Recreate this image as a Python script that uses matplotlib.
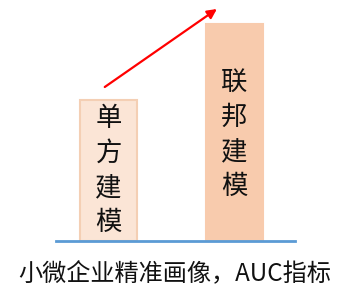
import matplotlib
matplotlib.use("Agg")
import matplotlib.pyplot as plt

plt.rcParams['font.family'] = ['Noto Sans CJK SC', 'DejaVu Sans']

# 数据
modelos = ["单方建模", "联邦建模"]
auc = [1.41, 2.17]
colores = ["#fbe5d6", "#f8cbad"]
bordes = ["#f4cfb4", "#f8cbad"]
titulo = "小微企业精准画像，AUC指标"

fig = plt.figure(figsize=(3.45, 2.94), dpi=100)
ax = fig.add_axes([56 / 345, (294 - 241) / 294, 239 / 345, 241 / 294])

x = [0, 1]
ax.bar(x, auc, width=0.45, color=colores, edgecolor=bordes, linewidth=1.5, zorder=2)
ax.set_xlim(-0.417, 1.48)
ax.set_ylim(0, 2.41)

# texto vertical centrado en cada barra
paso = 0.345
for xi, nombre, v in zip(x, modelos, auc):
    centro = v / 2 - 0.02 * xi
    y0 = centro + paso * (len(nombre) - 1) / 2
    for k, ch in enumerate(nombre):
        ax.text(xi, y0 - k * paso, ch, ha="center", va="center", fontsize=19,
                color="#111111", fontweight="light", zorder=3)

# flecha roja de mejora
ax.annotate("", xy=(0.86, auc[1] + 0.15), xytext=(-0.03, auc[0] + 0.13),
            arrowprops=dict(arrowstyle="-|>", color="#ff0000", lw=1.6, mutation_scale=14,
                            shrinkA=0, shrinkB=0))

ax.axhline(0, color="#5b9bd5", lw=2, zorder=4, clip_on=False)
for s in ax.spines.values():
    s.set_visible(False)
ax.set_xticks([])
ax.set_yticks([])

fig.text(175 / 345, 1 - 274 / 294, titulo, ha="center", va="center", fontsize=17.4,
         color="#111111", fontweight="light")

fig.savefig("out.png", dpi=100)
